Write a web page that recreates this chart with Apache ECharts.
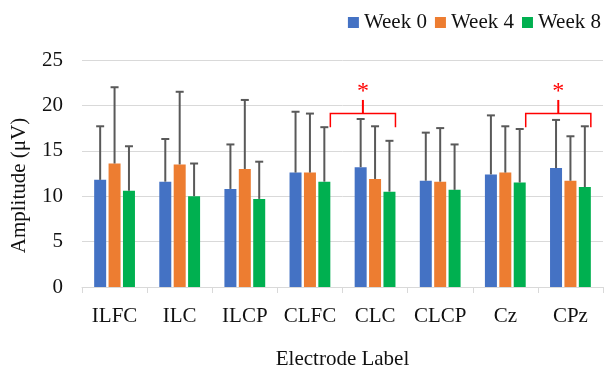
<!DOCTYPE html>
<html>
<head>
<meta charset="utf-8">
<script src="https://cdn.jsdelivr.net/npm/echarts@6/dist/echarts.min.js"></script>
<style>
  html, body { margin: 0; padding: 0; background: #fff; }
  #chart { width: 608px; height: 365px; }
</style>
</head>
<body>
<div id="chart"></div>
<script>
// electrode labels on the x axis
const categories = ['ILFC', 'ILC', 'ILCP', 'CLFC', 'CLC', 'CLCP', 'Cz', 'CPz']
const weekNames = ['Week 0', 'Week 4', 'Week 8']

// mean amplitude (uV)
const week0 = [11.8, 11.6, 10.8, 12.6, 13.2, 11.7, 12.4, 13.1]
const week4 = [13.6, 13.5, 13.0, 12.6, 11.9, 11.6, 12.6, 11.7]
const week8 = [10.6, 10.0, 9.7, 11.6, 10.5, 10.7, 11.5, 11.0]

// standard deviation (upper error bar only)
const week0Sd = [5.9, 4.7, 4.9, 6.7, 5.3, 5.3, 6.5, 5.3]
const week4Sd = [8.4, 8.0, 7.6, 6.5, 5.8, 5.9, 5.1, 4.9]
const week8Sd = [4.9, 3.6, 4.1, 6.0, 5.6, 5.0, 5.9, 6.7]

// significance brackets: from / to category, bracket top, foot, stem top
const sigFrom = [3, 6]
const sigTo = [4, 7]
const sigTop = [19.1, 19.1]
const sigFoot = [17.6, 17.6]
const sigStem = [20.6, 20.6]

const yTicks = [0, 5, 10, 15, 20, 25]

const colors = ['#4472C4', '#ED7D31', '#00B050']
const FONT = 'Liberation Serif'
const BAR_W = 12
const STEP = 14.4 // centre distance between neighbouring bars

const means = [week0, week4, week8]
const sds = [week0Sd, week4Sd, week8Sd]

const barSeries = weekNames.map((name, k) => ({
  name: name,
  type: 'bar',
  data: means[k],
  barWidth: BAR_W,
  barGap: '20%',
  itemStyle: {color: colors[k]},
  z: 2
}))

// error bars drawn on top of each bar
const errSeries = weekNames.map((name, k) => ({
  type: 'custom',
  name: name + ' err',
  z: 3,
  data: means[k].map((m, i) => [i, m, m + sds[k][i]]),
  encode: {x: 0, y: [1, 2]},
  renderItem: function (params, api) {
    const base = api.coord([api.value(0), api.value(1)])
    const top = api.coord([api.value(0), api.value(2)])
    const x = base[0] + (k - 1) * STEP
    const st = {stroke: '#595959', lineWidth: 2}
    return {
      type: 'group',
      children: [
        {type: 'line', shape: {x1: x, y1: base[1], x2: x, y2: top[1]}, style: st},
        {type: 'line', shape: {x1: x - 4, y1: top[1], x2: x + 4, y2: top[1]}, style: st}
      ]
    }
  }
}))

const sigSeries = {
  type: 'custom',
  name: 'sig',
  z: 4,
  data: sigFrom.map((f, i) => [f, sigTo[i], sigTop[i], sigFoot[i], sigStem[i]]),
  encode: {x: [0, 1], y: [2, 3, 4]},
  renderItem: function (params, api) {
    const a = api.coord([api.value(0), api.value(2)])
    const b = api.coord([api.value(1), api.value(2)])
    const foot = api.coord([api.value(0), api.value(3)])[1]
    const stem = api.coord([api.value(0), api.value(4)])[1]
    const x1 = a[0] + STEP + 6
    const x2 = b[0] + STEP + 6
    const xm = (x1 + x2) / 2
    const st = {stroke: '#FF0000', lineWidth: 1.5, fill: null}
    return {
      type: 'group',
      children: [
        {type: 'polyline', shape: {points: [[x1, foot], [x1, a[1]], [x2, a[1]], [x2, foot]]}, style: st},
        {type: 'line', shape: {x1: xm, y1: a[1], x2: xm, y2: stem}, style: {stroke: '#FF0000', lineWidth: 2}},
        {type: 'text', x: xm, y: stem + 4, style: {
          text: '*', fill: '#FF0000', font: '24px ' + FONT,
          align: 'center', verticalAlign: 'bottom'
        }}
      ]
    }
  }
}

const chart = echarts.init(document.getElementById('chart'))
chart.setOption({
  animation: false,
  textStyle: {fontFamily: FONT},
  legend: {
    data: weekNames,
    right: 2,
    top: 7,
    itemWidth: 11,
    itemHeight: 11,
    itemGap: 8,
    icon: 'rect',
    textStyle: {fontFamily: FONT, fontSize: 21, color: '#111'}
  },
  grid: {left: 82, right: 5, top: 60, bottom: 78, containLabel: false, outerBoundsMode: 'none'},
  xAxis: {
    type: 'category',
    data: categories,
    name: 'Electrode Label',
    nameLocation: 'middle',
    nameGap: 62,
    nameTextStyle: {fontFamily: FONT, fontSize: 21, color: '#111'},
    axisLine: {lineStyle: {color: '#d9d9d9', width: 1}},
    axisTick: {show: true, length: 6, lineStyle: {color: '#d9d9d9'}},
    axisLabel: {interval: 0, fontFamily: FONT, fontSize: 21, color: '#111', margin: 19}
  },
  yAxis: {
    type: 'value',
    min: yTicks[0],
    max: yTicks[yTicks.length - 1],
    interval: 5,
    name: 'Amplitude (μV)',
    nameLocation: 'middle',
    nameGap: 52,
    nameTextStyle: {fontFamily: FONT, fontSize: 21, color: '#111', padding: [0, 24, 0, 0]},
    axisLine: {show: false},
    axisTick: {show: false},
    axisLabel: {fontFamily: FONT, fontSize: 21, color: '#111', margin: 19},
    splitLine: {lineStyle: {color: '#d9d9d9', width: 1}}
  },
  series: [...barSeries, ...errSeries, sigSeries]
})
</script>
</body>
</html>
